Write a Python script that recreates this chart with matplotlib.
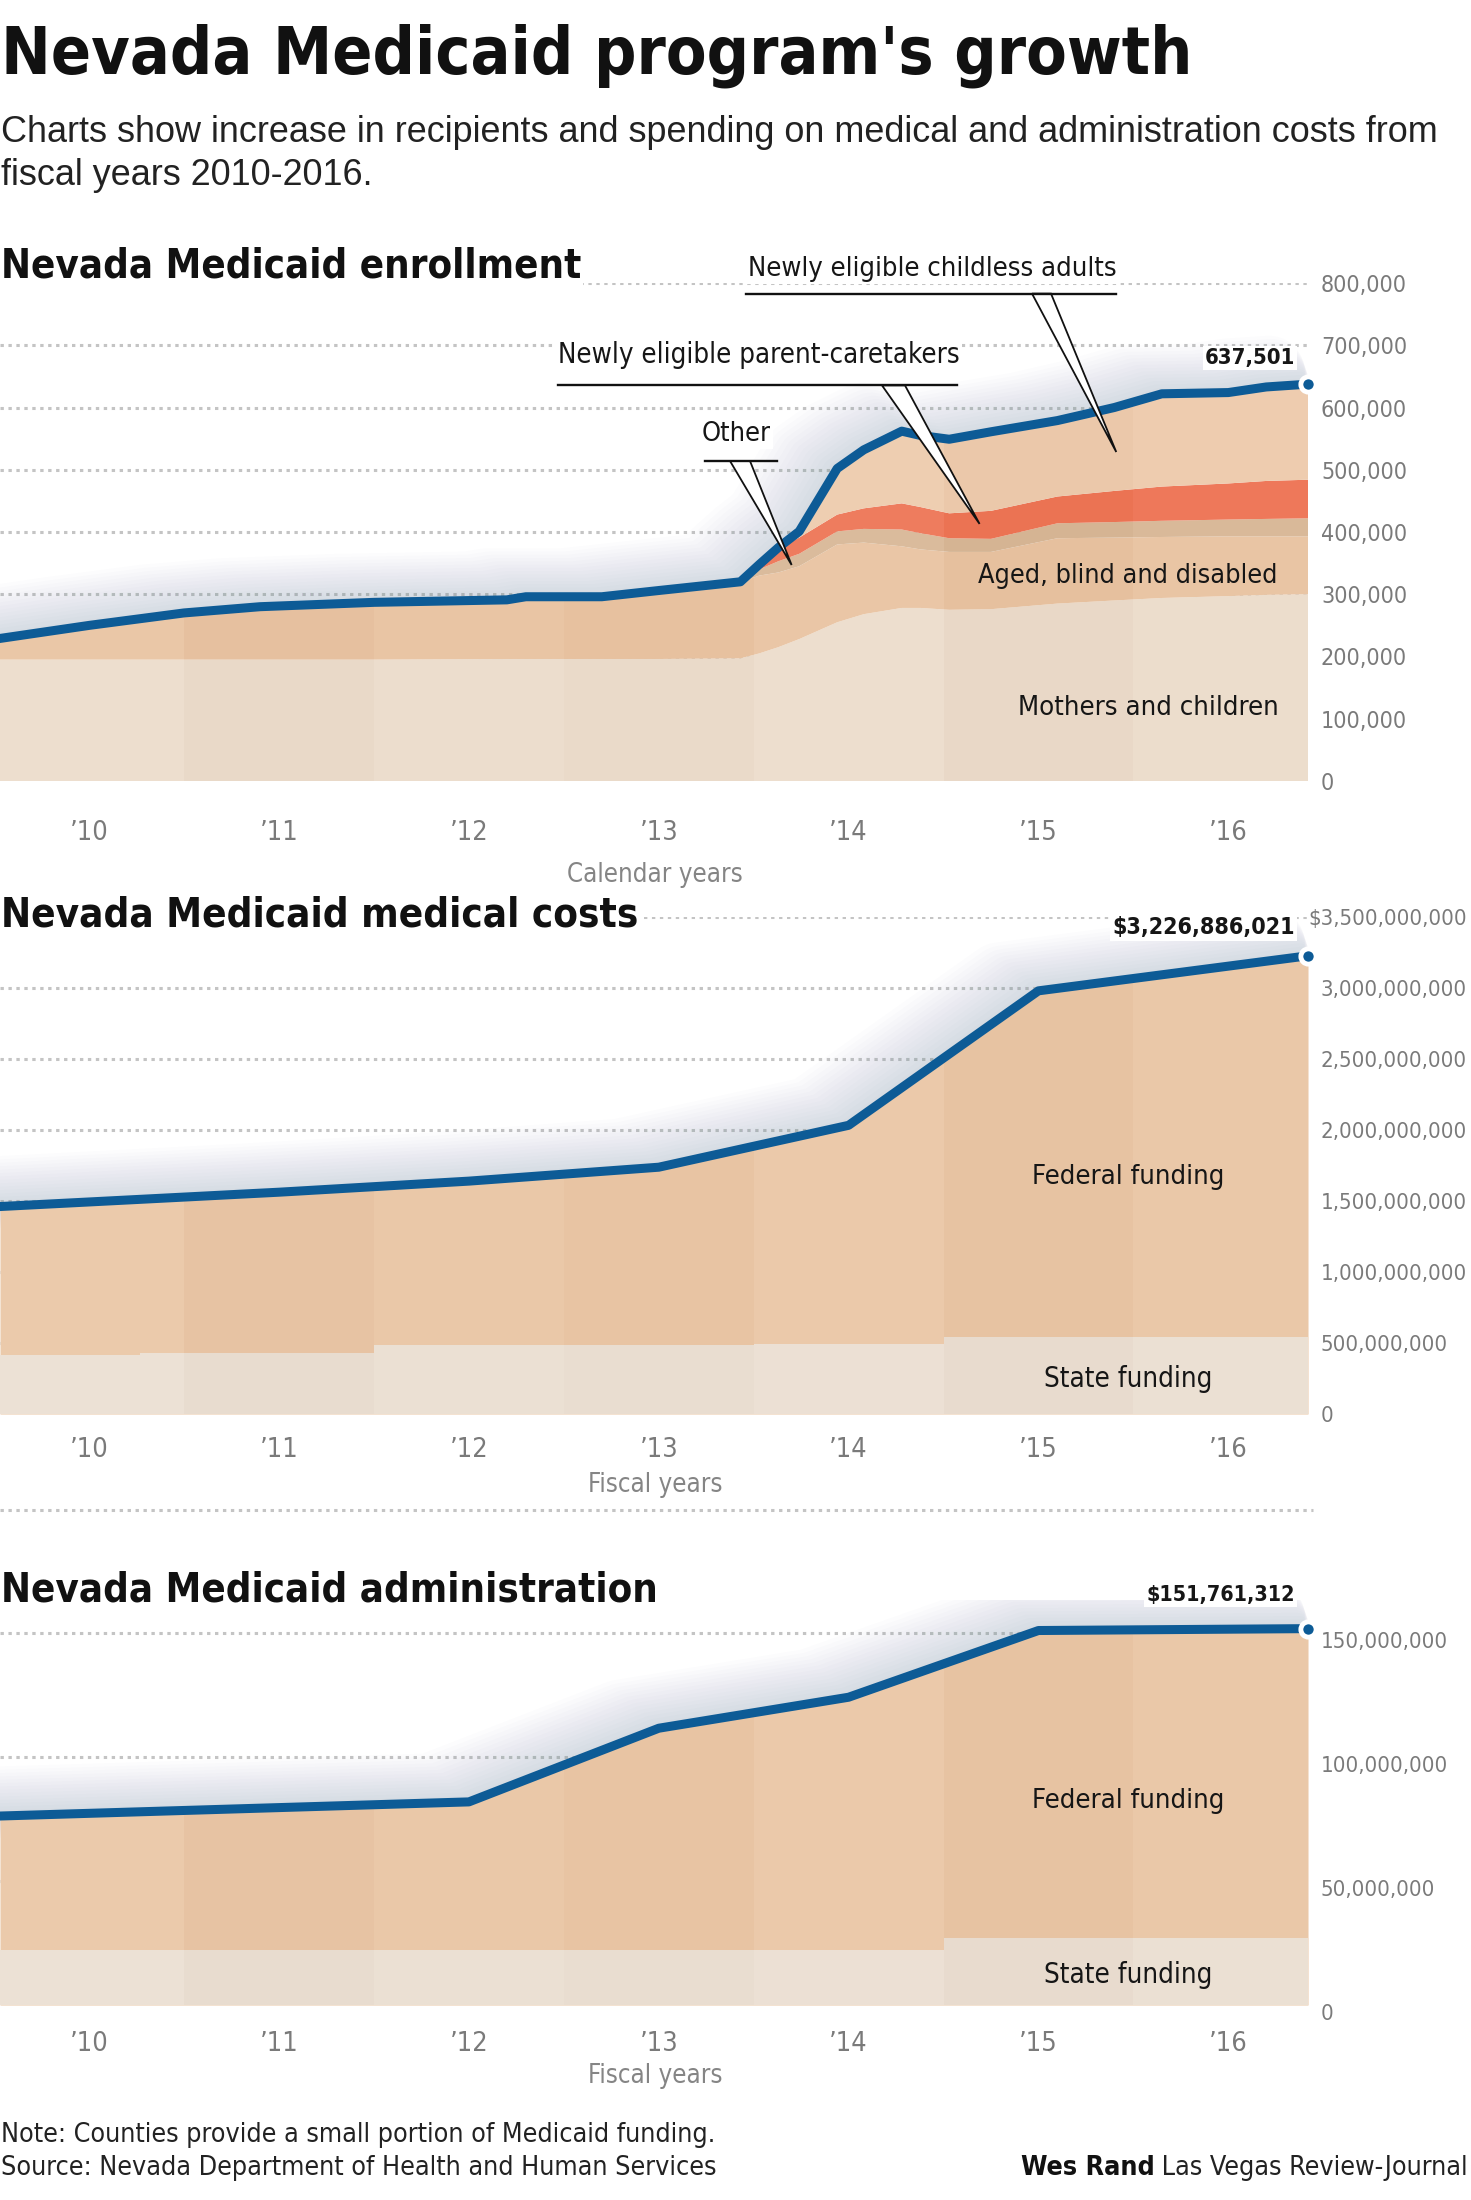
import numpy as np
import matplotlib
matplotlib.use("Agg")
import matplotlib.pyplot as plt
from matplotlib import font_manager, transforms
from matplotlib.patches import Polygon
from matplotlib.lines import Line2D

# ---------------- DATA ----------------
# Enrollment by calendar year (thousands of recipients)
enroll_years = [2009.53, 2010.0, 2010.5, 2010.9, 2011.5, 2012.2, 2012.3, 2012.7, 2013.0, 2013.43,
                2013.53, 2013.63, 2013.74, 2013.94, 2014.08, 2014.28, 2014.38, 2014.53, 2014.75,
                2015.1, 2015.4, 2015.65, 2016.0, 2016.2, 2016.42]
mothers_children = [195, 195, 195, 195, 195, 196, 196, 196, 196, 197,
                    205, 215, 228, 255, 268, 278, 278, 275, 276, 285, 290, 294, 297, 299, 300]
aged_blind_disabled = [34, 55, 75, 85, 92, 95, 100, 100, 110, 123,
                       125, 120, 117, 125, 115, 99, 94, 93, 92, 105, 101, 98, 96, 94, 93]
other = [0, 0, 0, 0, 0, 0, 0, 0, 0, 0,
         10, 18, 20, 21, 22, 27, 26, 22, 21, 24, 25, 26, 27, 28, 29]
parent_caretakers = [0, 0, 0, 0, 0, 0, 0, 0, 0, 0,
                     8, 20, 26, 27, 33, 42, 42, 40, 45, 43, 50, 55, 58, 61, 62]
childless_adults = [0, 0, 0, 0, 0, 0, 0, 0, 0, 0,
                    0, 2, 10, 74, 94, 116, 115, 119, 127, 122, 134, 149, 146, 151, 153.501]
enroll_unit = 1000
enroll_yticks = [0, 100000, 200000, 300000, 400000, 500000, 600000, 700000, 800000]
enroll_ytick_labels = ["0", "100,000", "200,000", "300,000", "400,000", "500,000",
                       "600,000", "700,000", "800,000"]
enroll_end_label = "637,501"

# Fiscal-year spending (dollars)
fiscal_years = [2009.53, 2011, 2012, 2013, 2014, 2015, 2016.42]
medical_total = [1.461e9, 1.562e9, 1.640e9, 1.738e9, 2.033e9, 2.980e9, 3226886021]
medical_state = [416e6, 430e6, 485e6, 488e6, 490e6, 540e6, 545e6]
medical_yticks = [0, 5e8, 1e9, 1.5e9, 2e9, 2.5e9, 3e9, 3.5e9]
medical_ytick_labels = ["0", "500,000,000", "1,000,000,000", "1,500,000,000", "2,000,000,000",
                        "2,500,000,000", "3,000,000,000", "$3,500,000,000"]
medical_end_label = "$3,226,886,021"

admin_total = [76.2e6, 79.6e6, 81.9e6, 111.6e6, 124.1e6, 151.0e6, 151761312]
admin_state = [22e6, 22e6, 22e6, 22e6, 22e6, 27e6, 27e6]
admin_yticks = [0, 5e7, 1e8, 1.5e8]
admin_ytick_labels = ["0", "50,000,000", "100,000,000", "150,000,000"]
admin_end_label = "$151,761,312"

year_ticks = [2010, 2011, 2012, 2013, 2014, 2015, 2016]
year_tick_labels = ["\u201910", "\u201911", "\u201912", "\u201913", "\u201914", "\u201915", "\u201916"]

# ---------------- STYLE ----------------
W, H = 1471, 2200
BLUE = "#0d5b96"
C_MOTHERS = "#ecdccb"
C_ABD = "#e9c3a1"
C_OTHER = "#d8b796"
C_PARENT = "#ee7454"
C_CHILDLESS = "#eecbad"
C_FED = "#eac6a5"
C_STATE = "#ebdfd2"
GRID = "#c4c4c4"
TICK = "#7a7a7a"
INK = "#161616"

names = {f.name for f in font_manager.fontManager.ttflist}
COND, COND_STRETCH = "Liberation Sans", "normal"
if "Liberation Sans Narrow" in names:
    COND = "Liberation Sans Narrow"
elif any(f.name == "DejaVu Sans" and str(f.stretch) in ("condensed", "semi-condensed", "75", "87")
         for f in font_manager.fontManager.ttflist):
    COND, COND_STRETCH = "DejaVu Sans", "condensed"
elif "Liberation Sans" not in names:
    COND = "DejaVu Sans"
REG = "Liberation Sans" if "Liberation Sans" in names else "DejaVu Sans"

fig = plt.figure(figsize=(W / 100, H / 100), dpi=100)
fig.patch.set_facecolor("white")
renderer = fig.canvas.get_renderer()
IDT = transforms.IdentityTransform()


def add_axes_px(left, top, right, bottom):
    return fig.add_axes([left / W, 1 - bottom / H, (right - left) / W, (bottom - top) / H])


def put(x, yb, s, width=None, ha="left", va="baseline", family=None, weight="normal",
        color=INK, size=20, bg=None, stretch=None):
    fam = family or COND
    st = stretch or (COND_STRETCH if fam == COND else "normal")
    t = fig.text(x / W, 1 - yb / H, s, ha=ha, va=va, fontsize=size, family=fam,
                 fontweight=weight, color=color, fontstretch=st, zorder=20)
    if width:
        bb = t.get_window_extent(renderer=renderer)
        t.set_fontsize(size * width / bb.width)
    if bg:
        t.set_bbox(dict(facecolor=bg, edgecolor="none", pad=1.5))
    return t


def fit_size(s, width, family=None, weight="normal"):
    t = put(0, 0, s, width=width, family=family, weight=weight)
    size = t.get_fontsize()
    t.remove()
    return size


def data_px(ax, x, y):
    dx, dy = ax.transData.transform((x, y))
    return dx, H - dy


def shadow(ax, x, y):
    for i in range(1, 15):
        tr = transforms.offset_copy(ax.transData, fig=fig, x=-2.8 * i, y=0.9 * i, units="dots")
        ax.plot(x, y, color="#8596ad", lw=4 + 3.4 * i, alpha=0.024, transform=tr,
                solid_joinstyle="round", solid_capstyle="round", zorder=1)


def texture(ax, x, top):
    verts = [(x[0], 0)] + list(zip(x, top)) + [(x[-1], 0)]
    clip = Polygon(verts, closed=True, transform=ax.transData)
    tints = [("white", 0.07), ("#7a5a40", 0.02), ("white", 0.04), ("#7a5a40", 0.01),
             ("white", 0.06), ("#7a5a40", 0.022), ("white", 0.035), ("#7a5a40", 0.012)]
    for k, yr in enumerate(range(2009, 2017)):
        c, a = tints[k]
        sp = ax.axvspan(yr + 0.5, yr + 1.5, color=c, alpha=a, lw=0, zorder=3)
        sp.set_clip_path(clip)


def grid(ax, ticks):
    for v in ticks[1:]:
        ax.axhline(v, color=GRID, lw=2.2, ls=(0, (1.1, 1.5)), zorder=0)


def end_dot(ax, x, y):
    ax.plot([x], [y], "o", ms=11, mfc=BLUE, mec="white", mew=3.5, clip_on=False, zorder=7)


def yticklabels(ax, ticks, labels, ref_label, ref_width, dy=0.0):
    size = fit_size(ref_label, ref_width)
    right_edge = None
    made = []
    for v, lab in zip(ticks, labels):
        _, py = data_px(ax, 0, v)
        if lab.startswith("$"):
            made.append((py, lab))
            continue
        t = put(1321, py + dy, lab, size=size, color=TICK, va="center_baseline")
        if lab == ref_label:
            right_edge = t.get_window_extent(renderer=renderer).x1
    for py, lab in made:
        put(right_edge if right_edge else 1467, py + dy, lab, size=size, color=TICK,
            va="center_baseline", ha="right")


def xticklabels(ax, ycenter, size):
    for v, lab in zip(year_ticks, year_tick_labels):
        px, _ = data_px(ax, v, 0)
        put(px, ycenter, lab, size=size, color=TICK, va="center_baseline", ha="center")


xlim = (fiscal_years[0], fiscal_years[-1])

# ---------------- ENROLLMENT ----------------
ax1 = add_axes_px(0, 283, 1308, 781)
ax1.set_xlim(xlim)
ax1.set_ylim(0, 800000)
ax1.set_axis_off()
ex = np.array(enroll_years)
layers = [np.array(v, dtype=float) * enroll_unit for v in
          (mothers_children, aged_blind_disabled, other, parent_caretakers, childless_adults)]
enroll_total = np.sum(layers, axis=0)
grid(ax1, enroll_yticks)
shadow(ax1, ex, enroll_total)
ax1.stackplot(ex, *layers, colors=[C_MOTHERS, C_ABD, C_OTHER, C_PARENT, C_CHILDLESS],
              linewidth=0, zorder=2, antialiased=True)
texture(ax1, ex, enroll_total)
ax1.plot(ex, enroll_total, color=BLUE, lw=6.5, solid_joinstyle="round", zorder=6)
end_dot(ax1, ex[-1], enroll_total[-1])

# ---------------- MEDICAL ----------------
fx = np.array(fiscal_years)
ax2 = add_axes_px(0, 917, 1308, 1414)
ax2.set_xlim(xlim)
ax2.set_ylim(0, 3.5e9)
ax2.set_axis_off()
grid(ax2, medical_yticks)
mt = np.array(medical_total)
shadow(ax2, fx, mt)
ax2.fill_between(fx, 0, mt, color=C_FED, lw=0, zorder=2)
ax2.fill_between(fx, 0, medical_state, step="mid", color=C_STATE, lw=0, zorder=2.5)
texture(ax2, fx, mt)
ax2.plot(fx, mt, color=BLUE, lw=6.5, solid_joinstyle="round", zorder=6)
end_dot(ax2, fx[-1], mt[-1])

# ---------------- ADMINISTRATION ----------------
ax3 = add_axes_px(0, 1600, 1308, 2005)
ax3.set_xlim(xlim)
ax3.set_ylim(0, 150e6 * (2005 - 1600) / (2005 - 1633))
ax3.set_axis_off()
grid(ax3, admin_yticks)
at = np.array(admin_total)
shadow(ax3, fx, at)
ax3.fill_between(fx, 0, at, color=C_FED, lw=0, zorder=2)
ax3.fill_between(fx, 0, admin_state, step="mid", color=C_STATE, lw=0, zorder=2.5)
texture(ax3, fx, at)
ax3.plot(fx, at, color=BLUE, lw=6.5, solid_joinstyle="round", zorder=6)
end_dot(ax3, fx[-1], at[-1])

# ---------------- TEXT ----------------
put(1, 74, "Nevada Medicaid program's growth", 1192, weight="bold", color="#111111")
sub = put(1, 142.4, "Charts show increase in recipients and spending on medical and administration costs from",
          1435, family=REG, color="#222222")
put(1, 184.7, "fiscal years 2010-2016.", family=REG, color="#222222", size=sub.get_fontsize())

put(1, 278, "Nevada Medicaid enrollment", 582, weight="bold", color="#111111", bg="white")
put(1, 926.4, "Nevada Medicaid medical costs", 638, weight="bold", color="#111111", bg="white")
put(1, 1601, "Nevada Medicaid administration", 659, weight="bold", color="#111111", bg="white")

# callouts (enrollment)
def callout(ax, base_l, base_r, base_y, tip, line_x0, line_x1):
    tx, ty = ax.transData.transform(tip)
    poly = Polygon([(base_l, H - base_y), (tx, ty), (base_r, H - base_y)], closed=True,
                   facecolor="white", edgecolor="#111111", lw=1.3, transform=IDT, zorder=15)
    fig.add_artist(poly)
    fig.add_artist(Line2D([line_x0, line_x1], [H - base_y, H - base_y], color="#111111",
                          lw=1.7, transform=IDT, zorder=16))

callout(ax1, 1032, 1051, 293.6, (2015.41, 528500), 746, 1116)
callout(ax1, 882, 905, 385.4, (2014.69, 413000), 558, 957)
callout(ax1, 730, 750, 461, (2013.70, 347000), 705, 777)

put(748, 276, "Newly eligible childless adults", 368, bg="white")
put(558, 363, "Newly eligible parent-caretakers", 401, bg="white")
put(702, 441, "Other", 69, bg="white")
put(1295, 364, enroll_end_label, 90, ha="right", weight="bold", bg="white")
put(978, 583, "Aged, blind and disabled", 300)
put(1018, 715, "Mothers and children", 261)

put(1295, 933.6, medical_end_label, 183, ha="right", weight="bold", bg="white")
put(1032, 1183.6, "Federal funding", 192)
put(1044, 1387, "State funding", 168)

put(1295, 1601, admin_end_label, 149, ha="right", weight="bold", bg="white")
put(1032, 1808, "Federal funding", 192)
put(1044, 1983, "State funding", 168)

# axis labels
yticklabels(ax1, enroll_yticks, enroll_ytick_labels, "800,000", 86)
yticklabels(ax2, medical_yticks, medical_ytick_labels, "3,000,000,000", 145)
yticklabels(ax3, admin_yticks, admin_ytick_labels, "150,000,000", 126, dy=7)

xsize = fit_size("Calendar years", 175)
xticklabels(ax1, 830, xsize * 1.05)
xticklabels(ax2, 1447, xsize * 1.05)
xticklabels(ax3, 2041, xsize * 1.05)
put(655, 881.7, "Calendar years", ha="center", size=xsize, color="#858585")
put(655, 1492, "Fiscal years", ha="center", size=xsize, color="#858585")
put(655, 2083, "Fiscal years", ha="center", size=xsize, color="#858585")

# separator
fig.add_artist(Line2D([0, 1313], [H - 1510, H - 1510], color=GRID, lw=2.2, ls=(0, (1.1, 1.5)),
                      transform=IDT, zorder=1))

# footer
note = put(1, 2141.7, "Note: Counties provide a small portion of Medicaid funding.", 716, color="#222222")
put(1, 2175, "Source: Nevada Department of Health and Human Services", size=note.get_fontsize(), color="#222222")
fsz = note.get_fontsize()
reg_part = put(1468, 2175, " Las Vegas Review-Journal", ha="right", size=fsz, color="#222222")
x_left = reg_part.get_window_extent(renderer=renderer).x0
put(x_left, 2175, "Wes Rand", ha="right", size=fsz, weight="bold", color="#111111")

fig.savefig("out.png", dpi=100, facecolor="white")
